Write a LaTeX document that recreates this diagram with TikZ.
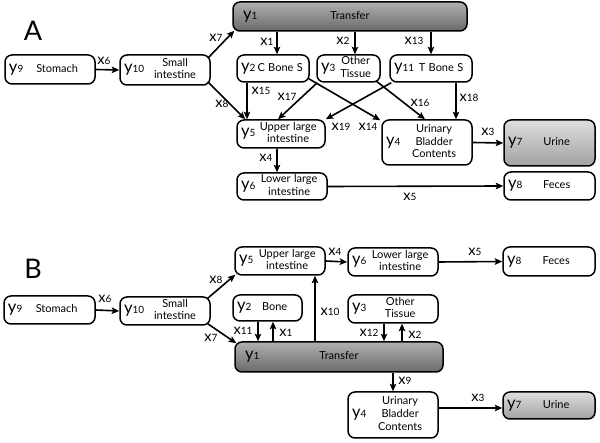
\documentclass[tikz,border=0pt]{standalone}
\usepackage{fontspec}
\setmainfont{Lato}
\usetikzlibrary{arrows.meta,calc}
\definecolor{tTop}{HTML}{B0B0B0}
\definecolor{tBot}{HTML}{6A6A6A}
\definecolor{uTop}{HTML}{DEDEDE}
\definecolor{uBot}{HTML}{A2A2A2}
\newcommand\yl[1]{{\fontsize{16.5}{16.5}\selectfont y}{\fontsize{10}{10}\selectfont #1}}
\newcommand\xl[1]{{\fontsize{14.5}{14.5}\selectfont x}{\fontsize{10}{10}\selectfont #1}}
\newcommand\nm[1]{{\fontsize{11}{12.6}\selectfont\begin{tabular}{@{}c@{}}#1\end{tabular}}}
% [style] name cx cy textwidth height ylabel text
\newcommand\bx[8][]{\node[box,#1,minimum height=#6pt,text width=#5pt] (#2) at (#3,#4) {\yl{#7}\hfill\nm{#8}\hfill\null};}
\newcommand\tbx[6]{\node[box,transfer,minimum height=#5pt,text width=#4pt] (#1) at (#2,#3) {\rlap{\yl{#6}}\hfill\nm{Transfer}\hfill\null};}
\tikzset{
  box/.style={draw, rounded corners=7pt, line width=1.5pt, inner ysep=0pt, inner xsep=4pt, align=left},
  transfer/.style={top color=tTop, bottom color=tBot, inner xsep=10pt},
  urine/.style={top color=uTop, bottom color=uBot},
  arr/.style={-{Stealth[length=7.5pt,width=6.5pt,inset=1.5pt]}, line width=1.6pt},
  lab/.style={inner sep=0pt},
  panel/.style={font=\fontsize{27}{27}\selectfont}
}
\begin{document}
\begin{tikzpicture}[x=1pt,y=-1pt]
\useasboundingbox (0,0) rectangle (600,443);
% ---------- Panel A ----------
\node[panel] (labA) at (33,31) {A};
\bx{y9A}{50}{69.5}{82}{29}{9}{Stomach}
\bx{y10A}{165}{70}{82}{30}{10}{Small\\intestine}
\tbx{y1A}{350}{16.5}{214}{29}{1}
\bx{y2A}{273}{68.5}{64}{27}{2}{C Bone S}
\bx{y3A}{348.5}{68.5}{55}{27}{3}{Other\\Tissue}
\bx{y11A}{431}{68.5}{74}{27}{11}{T Bone S}
\bx{y5A}{281}{134}{80}{28}{5}{Upper large\\intestine}
\bx{y4A}{427}{142.5}{82}{45}{4}{Urinary\\Bladder\\Contents}
\bx[urine]{y7A}{549.5}{143}{83}{46}{7}{Urine}
\bx{y6A}{282}{186.5}{82}{27}{6}{Lower large\\intestine}
\bx{y8A}{549.5}{186}{83}{28}{8}{Feces}
\coordinate (a277) at (277,0);
\coordinate (a355) at (355,0);
\coordinate (a431) at (431,0);
\coordinate (a247) at (247,0);
\coordinate (a456) at (456,0);
\draw[arr] (y9A.east) -- (y10A.west);
\draw[arr] ($(y10A.north east)+(-3,4)$) -- ($(y1A.south west)+(2,-1)$);
\draw[arr] ($(y10A.south east)+(-3,-4)$) -- ($(y5A.north west)+(9,0)$);
\draw[arr] (y1A.south -| a277) -- (y2A.north -| a277);
\draw[arr] (y1A.south -| a355) -- (y3A.north -| a355);
\draw[arr] (y1A.south -| a431) -- (y11A.north -| a431);
\draw[arr] (y2A.south -| a247) -- (y5A.north -| a247);
\draw[arr] ($(y3A.south west)+(1,0)$) -- ($(y5A.north)+(-3,0)$);
\draw[arr] ($(y2A.south east)+(-1,-4)$) -- ($(y4A.north west)+(-1,1)$);
\draw[arr] ($(y11A.south west)+(2,0)$) -- (y5A.north east);
\draw[arr] ($(y3A.south east)+(-5,-2)$) -- ($(y4A.north)+(-2,0)$);
\draw[arr] (y11A.south -| a456) -- (y4A.north -| a456);
\draw[arr] (y4A.east) -- (y7A.west);
\draw[arr] (y5A.south -| a277) -- (y6A.north -| a277);
\draw[arr] (y6A.east) -- (y8A.west);
\node[lab] (lx6A) at (104,61) {\xl{6}};
\node[lab] (lx7A) at (216,38) {\xl{7}};
\node[lab] (lx8A) at (222,104) {\xl{8}};
\node[lab] (lx1A) at (267,42) {\xl{1}};
\node[lab] (lx2A) at (343,41) {\xl{2}};
\node[lab] (lx13A) at (414,41) {\xl{13}};
\node[lab] (lx15A) at (261,91) {\xl{15}};
\node[lab] (lx17A) at (287,97) {\xl{17}};
\node[lab] (lx14A) at (368,127) {\xl{14}};
\node[lab] (lx19A) at (341,127) {\xl{19}};
\node[lab] (lx16A) at (420,103) {\xl{16}};
\node[lab] (lx18A) at (469,98) {\xl{18}};
\node[lab] (lx3A) at (488,132) {\xl{3}};
\node[lab] (lx4A) at (266,158) {\xl{4}};
\node[lab] (lx5A) at (410,197) {\xl{5}};
% ---------- Panel B ----------
\node[panel] (labB) at (33,269) {B};
\bx{y9B}{49.5}{310}{83}{28}{9}{Stomach}
\bx{y10B}{165}{311}{82}{28}{10}{Small\\intestine}
\bx{y5B}{280}{261}{82}{28}{5}{Upper large\\intestine}
\bx{y6B}{393}{262}{82}{28}{6}{Lower large\\intestine}
\bx{y8B}{549}{261.5}{84}{29}{8}{Feces}
\bx{y2B}{267.5}{308}{61}{26}{2}{Bone}
\bx{y3B}{393}{309}{82}{28}{3}{Other\\Tissue}
\tbx{y1B}{339}{357}{188}{30}{1}
\bx{y4B}{393}{415}{82}{46}{4}{Urinary\\Bladder\\Contents}
\bx[urine]{y7B}{549}{405.5}{84}{27}{7}{Urine}
\coordinate (b258) at (258,0);
\coordinate (b273) at (273,0);
\coordinate (b315) at (315,0);
\coordinate (b384) at (384,0);
\coordinate (b402) at (402,0);
\coordinate (b393) at (393,0);
\draw[arr] (y9B.east) -- (y10B.west);
\draw[arr] ($(y10B.north east)+(-3,2)$) -- ($(y5B.south west)+(1,-1)$);
\draw[arr] ($(y10B.south east)+(-3,-2)$) -- ($(y1B.north west)+(2,2)$);
\draw[arr] (y2B.south -| b258) -- (y1B.north -| b258);
\draw[arr] (y1B.north -| b273) -- (y2B.south -| b273);
\draw[arr] (y1B.north -| b315) -- (y5B.south -| b315);
\draw[arr] (y5B.east) -- (y6B.west);
\draw[arr] (y6B.east) -- (y8B.west);
\draw[arr] (y3B.south -| b384) -- (y1B.north -| b384);
\draw[arr] (y1B.north -| b402) -- (y3B.south -| b402);
\draw[arr] (y1B.south -| b393) -- (y4B.north -| b393);
\draw[arr] ($(y4B.east)+(0,-7)$) -- ($(y7B.west)+(0,2.5)$);
\node[lab] (lx6B) at (105,299) {\xl{6}};
\node[lab] (lx8B) at (216,280) {\xl{8}};
\node[lab] (lx7B) at (211,338) {\xl{7}};
\node[lab] (lx11B) at (243,331) {\xl{11}};
\node[lab] (lx1B) at (286,333) {\xl{1}};
\node[lab] (lx10B) at (330,312) {\xl{10}};
\node[lab] (lx4B) at (335,252) {\xl{4}};
\node[lab] (lx5B) at (475,252) {\xl{5}};
\node[lab] (lx12B) at (369,333) {\xl{12}};
\node[lab] (lx2B) at (415,335) {\xl{2}};
\node[lab] (lx9B) at (405,381) {\xl{9}};
\node[lab] (lx3B) at (478,398) {\xl{3}};
\end{tikzpicture}
\end{document}
